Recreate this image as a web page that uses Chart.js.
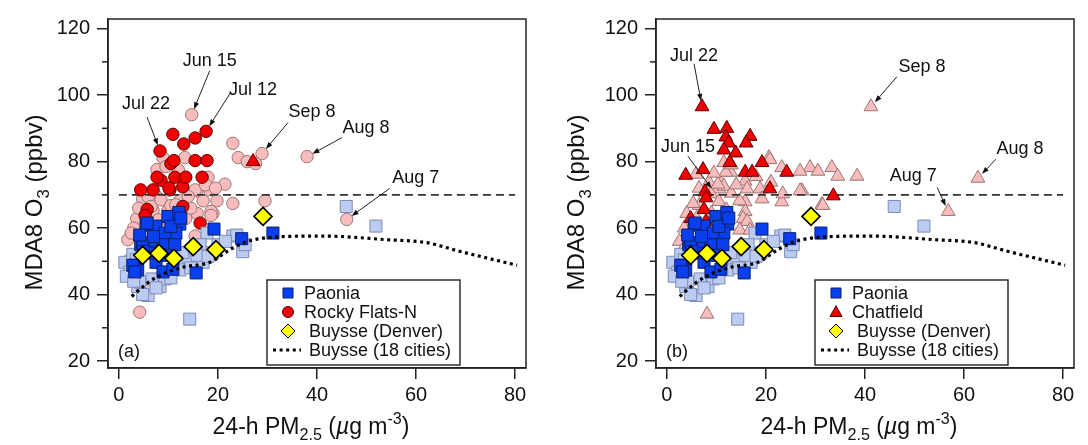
<!DOCTYPE html>
<html>
<head>
<meta charset="utf-8">
<script src="https://cdn.jsdelivr.net/npm/chart.js@4.4.1/dist/chart.umd.min.js"></script>
<style>
  html, body { margin: 0; padding: 0; background: #fff; }
  #wrap { display: flex; width: 1088px; height: 445px; }
  .panel { position: relative; width: 544px; height: 445px; }
</style>
</head>
<body>
<div id="wrap">
  <div class="panel"><canvas id="chartA" width="544" height="445"></canvas></div>
  <div class="panel"><canvas id="chartB" width="544" height="445"></canvas></div>
</div>
<script>
// ---- data: [PM2.5, MDA8 O3] ----
const paoniaHi = [[5.5,60.9],[7.5,60.6],[9.9,63.5],[12.1,64.7],[12.3,61.2],[5.7,61.5],[9.5,57.9],[11.5,58.5],
  [9.3,58.5],[19.2,59.7],[24.8,56.8],[31.1,58.5],[4.4,55.0],[6.5,55.0],[8.9,55.0],[11.3,55.0],[4.8,55.6],
  [4.2,57.9],[9.5,51.8],[3.2,48.8],[3.8,47.4],[7.5,49.7],[8.9,46.8],[10.9,47.6],[15.6,46.5],[2.8,48.8],
  [3.2,46.8],[6.0,52.5],[7.0,57.5],[10.5,60.5],[12.5,63.0],[5.0,53.0]];
const paoniaLo = [[14.3,32.6],[45.9,66.5],[51.9,60.6],[23.0,57.6],[25.0,52.9],[20.0,55.0],[17.8,58.5],
  [16.4,55.0],[13.7,50.3],[11.7,50.6],[8.3,42.4],[5.9,39.7],[3.8,42.4],[1.2,49.7],[2.2,46.8],[6.7,44.7],
  [9.3,44.7],[12.3,47.4],[17.0,49.7],[19.0,52.6],[23.8,57.9],[25.5,55.0],[4.2,43.8],[4.8,40.0],[12.9,52.6],
  [15.8,51.8],[2.8,52.1],[1.5,45.5],[3.0,44.0],[7.5,42.0],[10.5,45.0],[14.5,48.0],[18.0,51.5],[21.5,56.0],
  [3.5,50.5]];
const rockyHi = [[4.4,71.5],[6.9,71.5],[10.3,71.5],[12.9,72.4],[8.5,74.4],[7.7,75.3],[11.3,75.3],[13.5,75.3],
  [16.8,75.3],[10.5,79.4],[11.1,80.3],[15.4,80.3],[17.8,80.3],[8.3,83.2],[13.1,85.3],[15.4,87.1],[10.9,88.2],
  [17.6,89.1],[12.9,66.5],[5.7,65.6],[5.3,63.8],[16.4,61.5],[10.1,72.1]];
const rockyLo = [[14.7,94.1],[23.0,85.5],[24.1,81.2],[25.9,80.0],[28.9,82.4],[27.6,79.4],[38.0,81.5],
  [46.0,62.6],[29.5,68.2],[7.7,77.6],[8.9,81.2],[13.3,81.2],[18.0,75.3],[21.4,73.2],[15.8,71.2],[17.0,68.2],
  [19.8,68.2],[23.0,67.4],[19.0,64.4],[15.8,64.4],[12.3,68.2],[7.7,69.4],[4.8,68.8],[3.6,62.9],[6.9,65.3],
  [9.9,65.3],[18.4,71.5],[15.4,71.5],[18.6,65.0],[5.9,69.4],[6.5,66.5],[8.5,68.5],[10.5,66.8],[11.9,65.0],
  [13.5,62.9],[4.2,34.7],[5.7,42.6],[1.8,56.5],[15.4,57.6],[18.6,63.8],[2.2,50.6],[3.0,60.0],[2.5,58.5],
  [6.0,58.0],[8.0,62.5],[10.0,62.0],[11.5,67.0],[14.5,66.0],[4.0,66.0],[12.0,77.5],[9.5,78.5],[14.0,69.5],
  [17.5,73.0],[19.5,72.0]];
const rockyTri = [[27.1,80.0]];
const chatHi = [[7.1,96.5],[9.5,89.7],[12.1,90.0],[11.9,87.4],[16.8,87.6],[12.5,85.6],[11.5,83.5],[13.9,82.6],
  [16.0,85.6],[12.7,79.7],[19.2,79.7],[3.8,75.9],[7.3,77.6],[15.8,76.8],[17.2,76.8],[24.2,76.8],[7.7,70.9],
  [7.9,69.1],[20.8,71.8],[33.6,69.7],[7.5,65.6],[4.8,62.9],[12.1,62.9],[7.9,62.0]];
const chatLo = [[28.9,78.2],[30.5,77.1],[33.3,78.2],[34.5,75.6],[38.4,75.6],[27.3,71.2],[31.3,67.1],[41.2,96.5],
  [62.8,75.0],[56.8,65.0],[20.6,81.2],[23.2,78.2],[26.9,77.1],[5.9,76.2],[8.5,73.8],[10.9,73.8],[10.5,71.8],
  [11.5,72.6],[12.9,76.8],[11.9,76.8],[15.8,74.1],[16.2,71.8],[18.8,71.8],[21.0,73.8],[19.2,68.8],[23.2,67.9],
  [26.9,71.2],[31.5,66.8],[15.8,67.9],[15.8,65.0],[15.4,62.9],[6.5,66.8],[8.9,70.3],[11.5,79.7],[13.0,79.0],
  [20.8,80.6],[10.3,73.2],[23.4,70.3],[14.7,68.2],[16.2,62.0],[14.7,59.4],[16.8,59.4],[5.3,67.4],[4.0,64.4],
  [8.1,34.1],[3.5,60.0],[6.0,63.0],[9.0,64.5],[10.5,68.0],[13.0,70.5],[12.0,65.5],[2.5,56.0],[3.0,53.0],
  [9.5,76.5],[14.0,73.0],[18.0,75.5],[6.5,72.0]];
const buysseDenver = [[4.8,51.8],[8.1,52.4],[11.1,50.9],[15.0,54.4],[19.6,53.5],[29.1,63.5]];
const buysse18 = [[2.6,39.4],[4.8,42.3],[7.7,45.3],[12.9,48.2],[18.4,49.7],[22.4,53.5],[25.8,55.9],
  [32.5,57.4],[41.2,57.6],[54.1,56.5],[62.2,55.6],[68.3,53.2],[80.4,48.8]];
const o3Standard = 70;
const standardRange = [0, 80];
const xTicks = [0, 20, 40, 60, 80];
const yTicks = [20, 40, 60, 80, 100, 120];
const yMinorTicks = [30, 50, 70, 90, 110];

const annotA = ['Jun 15', 'Jul 12', 'Jul 22', 'Sep 8', 'Aug 8', 'Aug 7'];
const annotAX = [14.7, 17.6, 8.3, 28.9, 38.0, 46.0];
const annotAY = [94.1, 89.1, 83.2, 82.4, 81.5, 62.6];
const annotB = ['Jul 22', 'Jun 15', 'Sep 8', 'Aug 8', 'Aug 7'];
const annotBX = [7.1, 9.7, 41.2, 62.8, 56.8];
const annotBY = [96.5, 70.5, 96.5, 75.0, 65.0];

// text/arrow placement relative to the target point (px)
const annotLayoutA = [
  { tx: 18, ty: -54, ax: 18, ay: -44 },
  { tx: 47, ty: -41, ax: 24, ay: -38 },
  { tx: -14, ty: -47, ax: -13, ay: -34 },
  { tx: 50, ty: -42, ax: 26, ay: -31 },
  { tx: 59, ty: -29, ax: 35, ay: -19 },
  { tx: 69, ty: -41, ax: 43, ay: -31 },
];
const annotLayoutB = [
  { tx: -8, ty: -51, ax: -8, ay: -43 },
  { tx: -27, ty: -46, ax: -27, ay: -37 },
  { tx: 51, ty: -40, ax: 26, ay: -30 },
  { tx: 42, ty: -29, ax: 18, ay: -19 },
  { tx: -35, ty: -35, ax: -11, ay: -24 },
];

const FONT = '"Liberation Sans", Arial, Helvetica, sans-serif';
const COL = {
  blue: '#0a3ff0', blueEdge: '#0d1f66',
  lblue: '#bccbf2', lblueEdge: '#7c8bb4',
  red: '#f20000', redEdge: '#5a0000',
  pink: '#f8bcbc', pinkEdge: '#9c7474',
  yellow: '#ffff00',
  axis: '#222',
};

const pts = arr => arr.map(p => ({ x: p[0], y: p[1] }));

function scatterSet(label, data, style, bg, edge, radius, order, bw) {
  return {
    type: 'scatter', label, data: pts(data), pointStyle: style, pointRadius: radius,
    pointHoverRadius: radius, backgroundColor: bg, borderColor: edge, pointBorderWidth: bw || 1,
    order,
  };
}

function buildDatasets(panel) {
  const sets = [];
  sets.push({
    type: 'line', label: 'Buysse (18 cities)', data: pts(buysse18), borderColor: '#000', borderWidth: 3.2,
    borderDash: [3, 3.6], pointRadius: 0, cubicInterpolationMode: 'monotone', fill: false, order: 2,
  });
  sets.push(scatterSet('Buysse (Denver)', buysseDenver, 'rectRot', COL.yellow, '#000', 9, 1, 1.6));
  sets.push(scatterSet('Paonia', paoniaHi, 'rect', COL.blue, COL.blueEdge, 8.5, 3));
  sets.push(scatterSet('Paonia (other)', paoniaLo, 'rect', COL.lblue, COL.lblueEdge, 8.5, 4));
  if (panel === 'a') {
    sets.push(scatterSet('Rocky Flats-N (tri)', rockyTri, 'triangle', COL.red, COL.redEdge, 8, 5));
    sets.push(scatterSet('Rocky Flats-N', rockyHi, 'circle', COL.red, COL.redEdge, 6.2, 5));
    sets.push(scatterSet('Rocky Flats-N (other)', rockyLo, 'circle', COL.pink, COL.pinkEdge, 6.2, 7));
  } else {
    sets.push(scatterSet('Chatfield', chatHi, 'triangle', COL.red, COL.redEdge, 8, 5));
    sets.push(scatterSet('Chatfield (other)', chatLo, 'triangle', COL.pink, COL.pinkEdge, 8, 7));
  }
  sets.push({
    type: 'line', label: '70 ppbv', data: standardRange.map(x => ({ x, y: o3Standard })),
    borderColor: '#333', borderWidth: 1.6, borderDash: [8, 5], pointRadius: 0, fill: false, order: 6,
  });
  return sets;
}

function drawMarker(ctx, style, x, y, r, bg, edge) {
  ctx.save();
  ctx.fillStyle = bg; ctx.strokeStyle = edge; ctx.lineWidth = 1;
  ctx.beginPath();
  if (style === 'rect') ctx.rect(x - r, y - r, 2 * r, 2 * r);
  else if (style === 'circle') ctx.arc(x, y, r, 0, Math.PI * 2);
  else if (style === 'triangle') {
    ctx.moveTo(x, y - r * 1.05); ctx.lineTo(x + r * 1.0, y + r * 0.75); ctx.lineTo(x - r * 1.0, y + r * 0.75);
    ctx.closePath();
  } else if (style === 'diamond') {
    ctx.moveTo(x, y - r); ctx.lineTo(x + r, y); ctx.lineTo(x, y + r); ctx.lineTo(x - r, y); ctx.closePath();
  }
  ctx.fill(); ctx.stroke();
  ctx.restore();
}

// draws runs of text with sub/superscripts: parts = [[text, kind, italic]]
function runsWidth(ctx, parts, size) {
  let w = 0;
  parts.forEach(([t, kind, it]) => {
    const s = kind ? size * 0.7 : size;
    ctx.font = (it ? 'italic ' : '') + s + 'px ' + FONT;
    w += ctx.measureText(t).width;
  });
  return w;
}
function drawRuns(ctx, parts, x, y, size) {
  parts.forEach(([t, kind, it]) => {
    const s = kind ? size * 0.7 : size;
    ctx.font = (it ? 'italic ' : '') + s + 'px ' + FONT;
    let dy = 0;
    if (kind === 'sub') dy = size * 0.28;
    if (kind === 'sup') dy = -size * 0.42;
    ctx.fillText(t, x, y + dy);
    x += ctx.measureText(t).width;
  });
}

const decorPlugin = {
  id: 'decor',
  afterDatasetsDraw(chart, args, opts) {
    const { ctx, chartArea: a, scales } = chart;
    const xs = scales.x, ys = scales.y;
    ctx.save();
    // frame top/right
    ctx.strokeStyle = COL.axis; ctx.lineWidth = 1.5;
    ctx.strokeRect(a.left, a.top, a.right - a.left, a.bottom - a.top);
    // minor y ticks
    yMinorTicks.forEach(v => {
      const py = ys.getPixelForValue(v);
      ctx.beginPath(); ctx.moveTo(a.left, py); ctx.lineTo(a.left - 6, py); ctx.stroke();
    });
    ctx.fillStyle = '#111';
    ctx.textBaseline = 'alphabetic';
    // y title
    ctx.save();
    ctx.translate(opts.titleX, (a.top + a.bottom) / 2 + 9);
    ctx.rotate(-Math.PI / 2);
    const yParts = [['MDA8 O'], ['3', 'sub'], [' (ppbv)']];
    drawRuns(ctx, yParts, -runsWidth(ctx, yParts, 24) / 2, 0, 24);
    ctx.restore();
    // x title
    const xParts = [['24-h PM'], ['2.5', 'sub'], [' ('], ['\u00b5', null, true], ['g m'], ['-3', 'sup'], [')']];
    drawRuns(ctx, xParts, (a.left + a.right) / 2 - 6 - runsWidth(ctx, xParts, 23) / 2, a.bottom + 66, 23);
    // panel label
    ctx.font = '18px ' + FONT;
    ctx.textAlign = 'left';
    ctx.fillText(opts.tag, a.left + 10, a.bottom - 11);
    // legend
    const bx = a.left + 159, by = a.top + 261, bw = 193, bh = 85;
    ctx.fillStyle = '#fff'; ctx.fillRect(bx, by, bw, bh);
    ctx.strokeStyle = COL.axis; ctx.lineWidth = 1.4; ctx.strokeRect(bx, by, bw, bh);
    const rows = [by + 13, by + 32, by + 51, by + 70];
    drawMarker(ctx, 'rect', bx + 21, rows[0], 5, COL.blue, COL.blueEdge);
    if (opts.tag === '(a)') drawMarker(ctx, 'circle', bx + 21, rows[1], 5.5, COL.red, COL.redEdge);
    else drawMarker(ctx, 'triangle', bx + 21, rows[1], 6, COL.red, COL.redEdge);
    drawMarker(ctx, 'diamond', bx + 21, rows[2], 7, COL.yellow, '#000');
    ctx.save();
    ctx.strokeStyle = '#000'; ctx.lineWidth = 3.2; ctx.setLineDash([3, 3.6]);
    ctx.beginPath(); ctx.moveTo(bx + 6, rows[3]); ctx.lineTo(bx + 34, rows[3]); ctx.stroke();
    ctx.restore();
    ctx.fillStyle = '#111'; ctx.font = '18px ' + FONT; ctx.textBaseline = 'middle';
    ctx.fillText('Paonia', bx + 37, rows[0] + 1);
    ctx.fillText(opts.site, bx + 37, rows[1] + 1);
    ctx.fillText('Buysse (Denver)', bx + 42, rows[2] + 1);
    ctx.fillText('Buysse (18 cities)', bx + 42, rows[3] + 1);
    // annotations
    ctx.textAlign = 'center'; ctx.textBaseline = 'middle';
    opts.labels.forEach((lab, i) => {
      const px = xs.getPixelForValue(opts.ax[i]), py = ys.getPixelForValue(opts.ay[i]);
      const L = opts.layout[i];
      ctx.fillStyle = '#111';
      ctx.fillText(lab, px + L.tx, py + L.ty);
      const sx = px + L.ax, sy = py + L.ay;
      const d = Math.hypot(sx - px, sy - py);
      const ux = (sx - px) / d, uy = (sy - py) / d;
      const ex = px + ux * 6, ey = py + uy * 6;
      ctx.strokeStyle = '#222'; ctx.lineWidth = 1;
      ctx.beginPath(); ctx.moveTo(sx, sy); ctx.lineTo(ex + ux * 5, ey + uy * 5); ctx.stroke();
      ctx.fillStyle = '#111';
      ctx.beginPath();
      ctx.moveTo(ex, ey);
      ctx.lineTo(ex + ux * 7 - uy * 2.6, ey + uy * 7 + ux * 2.6);
      ctx.lineTo(ex + ux * 7 + uy * 2.6, ey + uy * 7 - ux * 2.6);
      ctx.closePath(); ctx.fill();
    });
    ctx.restore();
  },
};

function makeChart(id, panel, yWidth, padRight, titleX) {
  const isA = panel === 'a';
  return new Chart(document.getElementById(id), {
    data: { datasets: buildDatasets(panel) },
    options: {
      responsive: false,
      animation: false,
      devicePixelRatio: 1,
      layout: { padding: { left: 0, top: 11, right: padRight, bottom: 0 } },
      plugins: {
        legend: { display: false },
        tooltip: { enabled: false },
        decor: {
          tag: isA ? '(a)' : '(b)',
          site: isA ? 'Rocky Flats-N' : 'Chatfield',
          labels: isA ? annotA : annotB,
          ax: isA ? annotAX : annotBX,
          ay: isA ? annotAY : annotBY,
          layout: isA ? annotLayoutA : annotLayoutB,
          titleX,
        },
      },
      scales: {
        x: {
          type: 'linear', min: -2.2, max: 82.2,
          afterFit: s => { s.height = 77; },
          afterBuildTicks: s => { s.ticks = xTicks.map(v => ({ value: v })); },
          grid: { drawOnChartArea: false, tickLength: 11, tickColor: COL.axis, lineWidth: 1.5 },
          border: { color: COL.axis, width: 1.5 },
          ticks: { color: '#111', font: { family: FONT, size: 20 }, padding: 4, maxRotation: 0 },
        },
        y: {
          type: 'linear', min: 17.9, max: 122.9,
          afterFit: s => { s.width = yWidth; },
          afterBuildTicks: s => { s.ticks = yTicks.map(v => ({ value: v })); },
          grid: { drawOnChartArea: false, tickLength: 11, tickColor: COL.axis, lineWidth: 1.5 },
          border: { color: COL.axis, width: 1.5 },
          ticks: { color: '#111', font: { family: FONT, size: 20 }, padding: 7 },
        },
      },
    },
    plugins: [decorPlugin],
  });
}

makeChart('chartA', 'a', 108, 18, 42);
makeChart('chartB', 'b', 112, 14, 40);
</script>
</body>
</html>
